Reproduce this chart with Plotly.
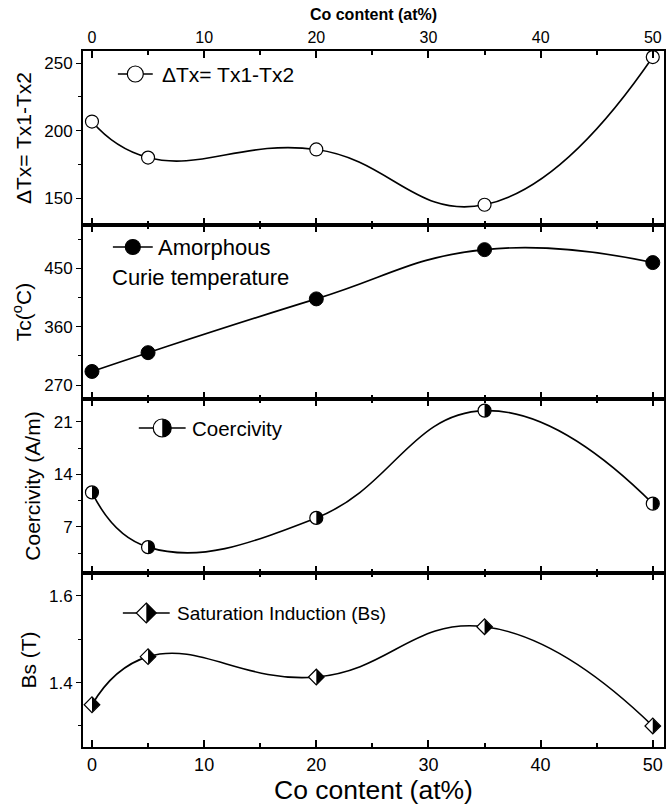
import plotly.graph_objects as go

# Co content of the alloy series (at%)
co = [0, 5, 20, 35, 50]

# Measured properties
delta_tx = [206.7, 180.0, 186.0, 145.0, 254.5]      # ΔTx = Tx1 - Tx2
curie_tc = [291.0, 320.0, 403.0, 479.0, 459.0]      # Tc (°C)
coercivity = [11.6, 4.3, 8.2, 22.5, 10.1]           # A/m
sat_bs = [1.349, 1.460, 1.413, 1.529, 1.300]        # T

FONT = "Arial, Liberation Sans, sans-serif"
W, H = 669, 812
ML, MR, MT, MB = 83, 3, 51, 65
PW = W - ML - MR
PH = H - MT - MB


def px(x):
    return (x - ML) / PW


def py(y):
    return (H - MB - y) / PH


K = 0.5523


def right_half_disc(r):
    return (f"M 0,{r} C {K*r},{r} {r},{K*r} {r},0 "
            f"C {r},{-K*r} {K*r},{-r} 0,{-r} Z")


def right_half_diamond(h):
    return f"M 0,{h} L {h},0 L 0,{-h} Z"


fig = go.Figure()

line = dict(color="black", width=1.6, shape="spline", smoothing=1.3)

fig.add_trace(go.Scatter(x=co, y=delta_tx, xaxis="x", yaxis="y", mode="lines+markers",
                         line=line,
                         marker=dict(symbol="circle", size=13, color="white",
                                     line=dict(color="black", width=1.2))))
fig.add_trace(go.Scatter(x=co, y=curie_tc, xaxis="x2", yaxis="y2", mode="lines+markers",
                         line=line,
                         marker=dict(symbol="circle", size=14, color="black",
                                     line=dict(color="black", width=1))))
fig.add_trace(go.Scatter(x=co, y=coercivity, xaxis="x3", yaxis="y3", mode="lines+markers",
                         line=line,
                         marker=dict(symbol="circle", size=13, color="white",
                                     line=dict(color="black", width=1.2))))
fig.add_trace(go.Scatter(x=co, y=sat_bs, xaxis="x4", yaxis="y4", mode="lines+markers",
                         line=line,
                         marker=dict(symbol="diamond", size=12, color="white",
                                     line=dict(color="black", width=1.2))))

shapes = []
# black right halves of the coercivity and Bs markers
for xv, yv in zip(co, coercivity):
    shapes.append(dict(type="path", xref="x3", yref="y3", xsizemode="pixel",
                       ysizemode="pixel", xanchor=xv, yanchor=yv,
                       path=right_half_disc(6.3), fillcolor="black",
                       line=dict(width=0)))
for xv, yv in zip(co, sat_bs):
    shapes.append(dict(type="path", xref="x4", yref="y4", xsizemode="pixel",
                       ysizemode="pixel", xanchor=xv, yanchor=yv,
                       path=right_half_diamond(7.6), fillcolor="black",
                       line=dict(width=0)))

annotations = []


def legend_entry(x0, x1, y, kind, r, label, tx, size):
    shapes.append(dict(type="line", xref="paper", yref="paper",
                       x0=px(x0), x1=px(x1), y0=py(y), y1=py(y),
                       line=dict(color="black", width=1.6)))
    cx = (x0 + x1) / 2
    if kind == "diamond":
        shapes.append(dict(type="path", xref="paper", yref="paper",
                           xsizemode="pixel", ysizemode="pixel",
                           xanchor=px(cx), yanchor=py(y),
                           path=f"M 0,{r} L {r},0 L 0,{-r} L {-r},0 Z",
                           fillcolor="white", line=dict(color="black", width=1.2)))
        shapes.append(dict(type="path", xref="paper", yref="paper",
                           xsizemode="pixel", ysizemode="pixel",
                           xanchor=px(cx), yanchor=py(y),
                           path=right_half_diamond(r), fillcolor="black",
                           line=dict(width=0)))
    else:
        fill = "black" if kind == "filled" else "white"
        shapes.append(dict(type="circle", xref="paper", yref="paper",
                           xsizemode="pixel", ysizemode="pixel",
                           xanchor=px(cx), yanchor=py(y),
                           x0=-r, x1=r, y0=-r, y1=r,
                           fillcolor=fill, line=dict(color="black", width=1.2)))
        if kind == "half":
            shapes.append(dict(type="path", xref="paper", yref="paper",
                               xsizemode="pixel", ysizemode="pixel",
                               xanchor=px(cx), yanchor=py(y),
                               path=right_half_disc(r), fillcolor="black",
                               line=dict(width=0)))
    if label:
        annotations.append(dict(xref="paper", yref="paper", x=px(tx), y=py(y),
                                xanchor="left", yanchor="middle", showarrow=False,
                                text=label, font=dict(size=size, color="black", family=FONT)))


legend_entry(118, 153, 74, "open", 8, "ΔTx= Tx1-Tx2", 160, 21)
legend_entry(113, 153, 247, "filled", 7.5, "Amorphous", 156, 22)
annotations.append(dict(xref="paper", yref="paper", x=px(110), y=py(277),
                        xanchor="left", yanchor="middle", showarrow=False,
                        text="Curie temperature", font=dict(size=22, color="black", family=FONT)))
legend_entry(139, 186, 428, "half", 9, "Coercivity", 190, 20.5)
legend_entry(123, 170, 613, "diamond", 10, "Saturation Induction (Bs)", 175, 19)

xcommon = dict(range=[-0.8, 51], showline=True, linewidth=2, linecolor="black",
               mirror="allticks", ticks="inside", ticklen=7, tickwidth=1.5,
               tickcolor="black", tick0=0, dtick=10, showgrid=False, zeroline=False,
               minor=dict(ticks="inside", dtick=5, ticklen=4, tickwidth=1.5,
                          tickcolor="black", showgrid=False),
               tickfont=dict(size=18, color="black", family=FONT))

ycommon = dict(showline=True, linewidth=2, linecolor="black", mirror=True,
               ticks="outside", ticklen=5, tickwidth=1.2, tickcolor="black",
               showgrid=False, zeroline=False,
               tickfont=dict(size=17, color="black", family=FONT),
               title_font=dict(size=21, color="black", family=FONT),
               title_standoff=7)

fig.update_layout(
    width=W, height=H,
    margin=dict(l=ML, r=MR, t=MT, b=MB),
    paper_bgcolor="white", plot_bgcolor="white",
    showlegend=False,
    font=dict(family=FONT, color="black"),
    xaxis=dict(xcommon, anchor="y", side="top", showticklabels=True,
               tickfont=dict(size=16, color="black", family=FONT),
               title=dict(text="<b>Co content (at%)</b>", standoff=4,
                          font=dict(size=16, color="black", family=FONT))),
    xaxis2=dict(xcommon, anchor="y2", matches="x", showticklabels=False),
    xaxis3=dict(xcommon, anchor="y3", matches="x", showticklabels=False),
    xaxis4=dict(xcommon, anchor="y4", matches="x", side="bottom", showticklabels=True,
                title=dict(text="Co content (at%)", standoff=5,
                           font=dict(size=26.5, color="black", family=FONT))),
    yaxis=dict(ycommon, domain=[0.75, 1.0], anchor="x", range=[130, 259],
               tick0=150, dtick=50, minor=dict(ticks="outside", dtick=25, ticklen=3, tickcolor="black"),
               title=dict(text="ΔTx= Tx1-Tx2")),
    yaxis2=dict(ycommon, domain=[0.5, 0.75], anchor="x2", range=[248.5, 517],
                tick0=270, dtick=90, minor=dict(ticks="outside", dtick=45, ticklen=3, tickcolor="black"),
                title=dict(text="Tc(<sup>o</sup>C)")),
    yaxis3=dict(ycommon, domain=[0.25, 0.5], anchor="x3", range=[0.85, 24.05],
                tick0=7, dtick=7, minor=dict(ticks="outside", dtick=3.5, ticklen=3, tickcolor="black"),
                title=dict(text="Coercivity (A/m)")),
    yaxis4=dict(ycommon, domain=[0.0, 0.25], anchor="x4", range=[1.2515, 1.653],
                tick0=1.4, dtick=0.2, tickformat=".1f",
                minor=dict(ticks="outside", dtick=0.1, ticklen=3, tickcolor="black"),
                title=dict(text="Bs (T)")),
    shapes=shapes,
    annotations=annotations,
)

fig.write_html("out.html")
